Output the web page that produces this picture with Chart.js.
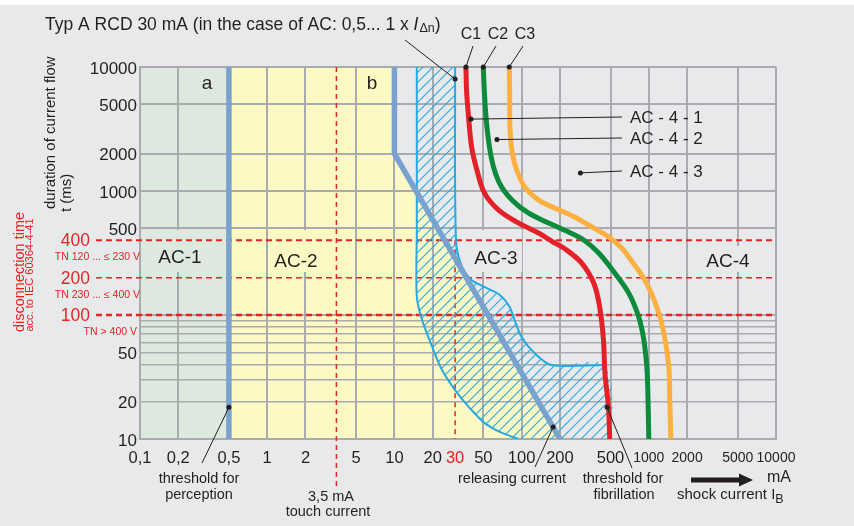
<!DOCTYPE html>
<html>
<head>
<meta charset="utf-8">
<script src="https://cdn.jsdelivr.net/npm/chart.js@4"></script>
<style>
  html, body { margin: 0; padding: 0; background: #e8e9eb; overflow: hidden; }
  canvas { display: block; }
</style>
</head>
<body>
<canvas id="chart" width="854" height="526"></canvas>
<script>
// shock current axis (mA)
const currentTicks = [0.1, 0.2, 0.5, 1, 2, 5, 10, 20, 30, 50, 100, 200, 500, 1000, 2000, 5000, 10000];
const currentLabels = ['0,1', '0,2', '0,5', '1', '2', '5', '10', '20', '30', '50', '100', '200', '500', '1000', '2000', '5000', '10000'];

// duration axis (ms)
const durationGrid = [10, 20, 30, 40, 50, 60, 70, 80, 90, 100, 200, 400, 500, 1000, 2000, 5000, 10000];
const durationLabels = [10, 20, 50, 500, 1000, 2000, 5000, 10000];
const disconnectTimes = [400, 200, 100];
const disconnectNotes = ['TN 120 ... \u2264 230 V', 'TN 230 ... \u2264 400 V', 'TN > 400 V'];

// reference currents
const touchCurrent = 3.5;
const ratedCurrent = 30;

// zone boundaries
const ac1Zone = [0.1, 0.5];
const perceptionX = [0.5, 0.5];
const perceptionY = [10, 10000];
const letGoX = [10, 10, 200];
const letGoY = [10000, 2000, 10];

// releasing current band of the RCD
const releaseLeftX = [15, 15, 15, 16.5, 19.8, 23.7, 30, 38.5, 51, 70, 95];
const releaseLeftY = [10000, 480, 141, 91, 55.5, 36, 24.8, 18.1, 13.5, 11.2, 10];
const releaseRightX = [30, 30.5, 34, 40.6, 51.4, 67.3, 80.5, 88, 100, 126, 172, 450, 450];
const releaseRightY = [10000, 400, 244, 191, 168, 145, 116, 91, 66.5, 49.4, 39.5, 39.5, 10];

// fibrillation curves
const c1X = [36.5, 37, 38.5, 40.5, 44.5, 51, 66, 95, 136, 172, 226, 297, 369, 411, 440, 452, 482, 493];
const c1Y = [10000, 6200, 3700, 2250, 1480, 965, 700, 550, 458, 395, 334, 262, 181, 116, 63, 34, 18, 10];
const c2X = [50, 51, 53.4, 58.3, 67, 84, 113, 163, 234, 308, 404, 540, 696, 834, 914, 965, 982, 1000];
const c2Y = [10000, 6200, 3280, 1780, 1160, 846, 665, 552, 467, 403, 316, 218, 150, 96, 63, 38, 25, 10];
const c3X = [80, 80.6, 81, 84.5, 91.4, 106, 136, 182, 261, 356, 484, 612, 696, 931, 1156, 1313, 1437, 1462, 1490];
const c3Y = [10000, 6200, 3280, 2025, 1477, 1077, 846, 729, 617, 513, 426, 347, 294, 191, 116, 72, 38, 20.6, 10];

const FONT = "'Liberation Sans', Arial, Helvetica, sans-serif";
const INK = '#231f20';
const RED = '#e52321';
const BG = '#e8e9eb';
const GREEN_ZONE = '#dde8df';
const YELLOW_ZONE = '#fdf9c5';
const GRID = '#a9abae';
const STEEL = '#7aa2cf';
const SKY = '#27a9e1';

const pts = (xs, ys) => xs.map((v, i) => ({ x: v, y: ys[i] }));

function hatch(color) {
    const c = document.createElement('canvas');
    c.width = 10; c.height = 10;
    const g = c.getContext('2d');
    g.strokeStyle = color;
    g.lineWidth = 1.1;
    g.beginPath();
    g.moveTo(-2, 12); g.lineTo(12, -2);
    g.moveTo(-2, 2); g.lineTo(2, -2);
    g.moveTo(8, 12); g.lineTo(12, 8);
    g.stroke();
    return g.createPattern(c, 'repeat');
}

function text(ctx, s, x, y, size, color, align, style) {
    ctx.font = (style || '') + ' ' + size + 'px ' + FONT;
    ctx.fillStyle = color || INK;
    ctx.textAlign = align || 'center';
    ctx.textBaseline = 'middle';
    ctx.fillText(s, x, y);
    return ctx.measureText(s).width;
}

function vtext(ctx, s, x, y, size, color, align) {
    ctx.save();
    ctx.translate(x, y);
    ctx.rotate(-Math.PI / 2);
    text(ctx, s, 0, 0, size, color, align);
    ctx.restore();
}

function leader(ctx, x1, y1, x2, y2) {
    ctx.strokeStyle = INK;
    ctx.lineWidth = 1;
    ctx.setLineDash([]);
    ctx.beginPath();
    ctx.moveTo(x1, y1);
    ctx.lineTo(x2, y2);
    ctx.stroke();
    ctx.fillStyle = INK;
    ctx.beginPath();
    ctx.arc(x2, y2, 2.5, 0, Math.PI * 2);
    ctx.fill();
}

function dashed(ctx, x1, y1, x2, y2, w, dash) {
    ctx.strokeStyle = RED;
    ctx.lineWidth = w;
    ctx.setLineDash(dash);
    ctx.beginPath();
    ctx.moveTo(x1, y1);
    ctx.lineTo(x2, y2);
    ctx.stroke();
    ctx.setLineDash([]);
}

const zones = {
    id: 'zones',
    beforeDraw(chart) {
        const { ctx, chartArea: a, scales: { x, y } } = chart;
        ctx.save();
        ctx.fillStyle = '#ffffff';
        ctx.fillRect(0, 0, chart.width, chart.height);
        ctx.fillStyle = BG;
        ctx.fillRect(0, 5, chart.width, chart.height - 5);

        const x0 = x.getPixelForValue(ac1Zone[0]);
        const x1 = x.getPixelForValue(ac1Zone[1]);
        ctx.fillStyle = GREEN_ZONE;
        ctx.fillRect(x0, a.top, x1 - x0, a.bottom - a.top);

        ctx.fillStyle = YELLOW_ZONE;
        ctx.beginPath();
        ctx.moveTo(x.getPixelForValue(perceptionX[1]), y.getPixelForValue(perceptionY[1]));
        letGoX.forEach((v, i) => ctx.lineTo(x.getPixelForValue(v), y.getPixelForValue(letGoY[i])));
        ctx.lineTo(x.getPixelForValue(perceptionX[0]), y.getPixelForValue(perceptionY[0]));
        ctx.closePath();
        ctx.fill();
        ctx.restore();
    },
    beforeDatasetsDraw(chart) {
        const { ctx, chartArea: a, scales: { x, y } } = chart;
        ctx.save();
        // label plates that break the grid
        ctx.fillStyle = GREEN_ZONE; ctx.fillRect(155, 230, 50, 42);
        ctx.fillStyle = YELLOW_ZONE; ctx.fillRect(272, 230, 50, 42);
        ctx.fillStyle = BG; ctx.fillRect(470, 230, 52, 42);
        ctx.fillStyle = BG; ctx.fillRect(703, 246, 50, 26);

        // disconnection time limits
        const widths = [2, 1.5, 2.5];
        disconnectTimes.forEach((t, i) => {
            const py = y.getPixelForValue(t);
            dashed(ctx, 96, py, a.right, py, widths[i], [6, 4]);
        });
        // touch current and rated residual current
        const tx = x.getPixelForValue(touchCurrent);
        dashed(ctx, tx, a.top, tx, 487, 1.5, [5, 4]);
        const rx = x.getPixelForValue(ratedCurrent);
        dashed(ctx, rx, y.getPixelForValue(disconnectTimes[0]), rx, a.bottom, 1.5, [5, 4]);
        ctx.restore();
    },
    afterDraw(chart) {
        const { ctx, scales: { x, y } } = chart;
        const px = v => x.getPixelForValue(v);
        const py = v => y.getPixelForValue(v);
        ctx.save();

        // axis labels
        currentTicks.forEach((v, i) => {
            text(ctx, currentLabels[i], px(v), 458, v >= 1000 ? 14 : 16.5, v === ratedCurrent ? RED : INK);
        });
        durationLabels.forEach(v => text(ctx, String(v), 137, py(v) + 2, 17, INK, 'right'));
        disconnectTimes.forEach((t, i) => {
            text(ctx, String(t), 90, py(t) + 1, 17.5, RED, 'right');
            text(ctx, disconnectNotes[i], i < 2 ? 140 : 137, py(t) + 17, 10.5, RED, 'right');
        });

        // axis titles
        vtext(ctx, 'duration of current flow', 51, 209, 15, INK, 'left');
        vtext(ctx, 't (ms)', 67, 212, 15, INK, 'left');
        vtext(ctx, 'disconnection time', 20, 272, 14.5, RED, 'center');
        vtext(ctx, 'acc. to IEC 60364-4-41', 30, 275, 11, RED, 'center');

        // title
        let tx = 45;
        tx += text(ctx, 'Typ A RCD 30 mA (in the case of AC: 0,5... 1 x ', tx, 25, 17.5, INK, 'left');
        tx += text(ctx, 'I', tx, 25, 17.5, INK, 'left', 'italic');
        tx += text(ctx, '\u0394n', tx + 1, 29, 12.5, INK, 'left') + 1;
        text(ctx, ')', tx, 25, 17.5, INK, 'left');
        leader(ctx, 405, 40, px(30), py(8000));

        // curve names
        text(ctx, 'C1', 471, 35, 16);
        text(ctx, 'C2', 498, 35, 16);
        text(ctx, 'C3', 525, 35, 16);
        leader(ctx, 473, 46, px(c1X[0]), py(c1Y[0]));
        leader(ctx, 496, 46, px(c2X[0]), py(c2Y[0]));
        leader(ctx, 523, 46, px(c3X[0]), py(c3Y[0]));

        text(ctx, 'AC - 4 - 1', 630, 118, 17, INK, 'left');
        text(ctx, 'AC - 4 - 2', 630, 139, 17, INK, 'left');
        text(ctx, 'AC - 4 - 3', 630, 172, 17, INK, 'left');
        leader(ctx, 622, 117, px(40), py(3800));
        leader(ctx, 622, 138, px(64), py(2600));
        leader(ctx, 622, 171, px(290), py(1400));

        // zone names
        text(ctx, 'a', 207, 84, 19);
        text(ctx, 'b', 372, 84, 19);
        text(ctx, 'AC-1', 180, 258, 19);
        text(ctx, 'AC-2', 296, 262, 19);
        text(ctx, 'AC-3', 496, 259, 19);
        text(ctx, 'AC-4', 728, 262, 19);

        // notes below the axis
        text(ctx, 'threshold for', 199, 479, 14.5);
        text(ctx, 'perception', 199, 495, 14.5);
        leader(ctx, 202, 463, px(0.5), py(18));
        text(ctx, '3,5 mA', 331, 497, 14.5);
        text(ctx, 'touch current', 328, 512, 14.5);
        text(ctx, 'releasing current', 512, 479, 14.5);
        leader(ctx, 535, 467, px(177), py(12.5));
        text(ctx, 'threshold for', 623, 479, 14.5);
        text(ctx, 'fibrillation', 624, 495, 14.5);
        leader(ctx, 632, 468, px(470), py(18));

        // shock current arrow
        ctx.strokeStyle = INK;
        ctx.lineWidth = 5;
        ctx.beginPath();
        ctx.moveTo(691, 480);
        ctx.lineTo(742, 480);
        ctx.stroke();
        ctx.fillStyle = INK;
        ctx.beginPath();
        ctx.moveTo(739, 473.5);
        ctx.lineTo(753, 480);
        ctx.lineTo(739, 486.5);
        ctx.closePath();
        ctx.fill();
        text(ctx, 'mA', 779, 478, 16);
        let sx = 677;
        sx += text(ctx, 'shock current I', sx, 495, 15, INK, 'left');
        text(ctx, 'B', sx, 500, 12.5, INK, 'left');
        ctx.restore();
    }
};

document.addEventListener('DOMContentLoaded', function () {
    const ctx = document.getElementById('chart').getContext('2d');

    const line = (data, color, width, extra) => Object.assign({
        data: data,
        showLine: true,
        borderColor: color,
        borderWidth: width,
        pointRadius: 0,
        fill: false,
        tension: 0
    }, extra || {});

    const releaseBand = pts(releaseLeftX, releaseLeftY)
        .concat(pts(releaseRightX, releaseRightY).reverse());

    new Chart(ctx, {
        type: 'scatter',
        data: {
            datasets: [
                line(pts(c1X, c1Y), '#e42129', 5, { tension: 0.35 }),
                line(pts(c2X, c2Y), '#0d8b3d', 5, { tension: 0.35 }),
                line(pts(c3X, c3Y), '#fbb040', 5, { tension: 0.35 }),
                line(pts(perceptionX, perceptionY), STEEL, 5.5),
                line(pts(letGoX, letGoY), STEEL, 5.5),
                line(pts(releaseLeftX, releaseLeftY), SKY, 2, { tension: 0.3 }),
                line(pts(releaseRightX.slice(0, -1), releaseRightY.slice(0, -1)), SKY, 2, { tension: 0.3 }),
                line(releaseBand, 'rgba(0,0,0,0)', 0, { tension: 0.3, fill: 'shape', backgroundColor: hatch(SKY) })
            ]
        },
        options: {
            responsive: false,
            animation: false,
            layout: { padding: { left: 140, top: 67, right: 78, bottom: 87 } },
            plugins: {
                legend: { display: false },
                tooltip: { enabled: false }
            },
            scales: {
                x: {
                    type: 'logarithmic',
                    min: currentTicks[0],
                    max: currentTicks[currentTicks.length - 1],
                    afterBuildTicks: s => { s.ticks = currentTicks.map(v => ({ value: v })); },
                    ticks: { display: false },
                    grid: {
                        drawTicks: false,
                        lineWidth: 2,
                        color: c => (c.tick && c.tick.value === ratedCurrent) ? 'rgba(0,0,0,0)' : GRID
                    },
                    border: { color: GRID, width: 2 }
                },
                y: {
                    type: 'logarithmic',
                    min: durationGrid[0],
                    max: durationGrid[durationGrid.length - 1],
                    afterBuildTicks: s => { s.ticks = durationGrid.map(v => ({ value: v })); },
                    ticks: { display: false },
                    grid: {
                        drawTicks: false,
                        lineWidth: c => (c.tick && c.tick.value < 100 && c.tick.value > 10) ? 1.6 : 2,
                        color: c => (c.tick && (c.tick.value === 200 || c.tick.value === 400)) ? 'rgba(0,0,0,0)' : GRID
                    },
                    border: { color: GRID, width: 2 }
                }
            }
        },
        plugins: [zones]
    });
});
</script>
</body>
</html>
